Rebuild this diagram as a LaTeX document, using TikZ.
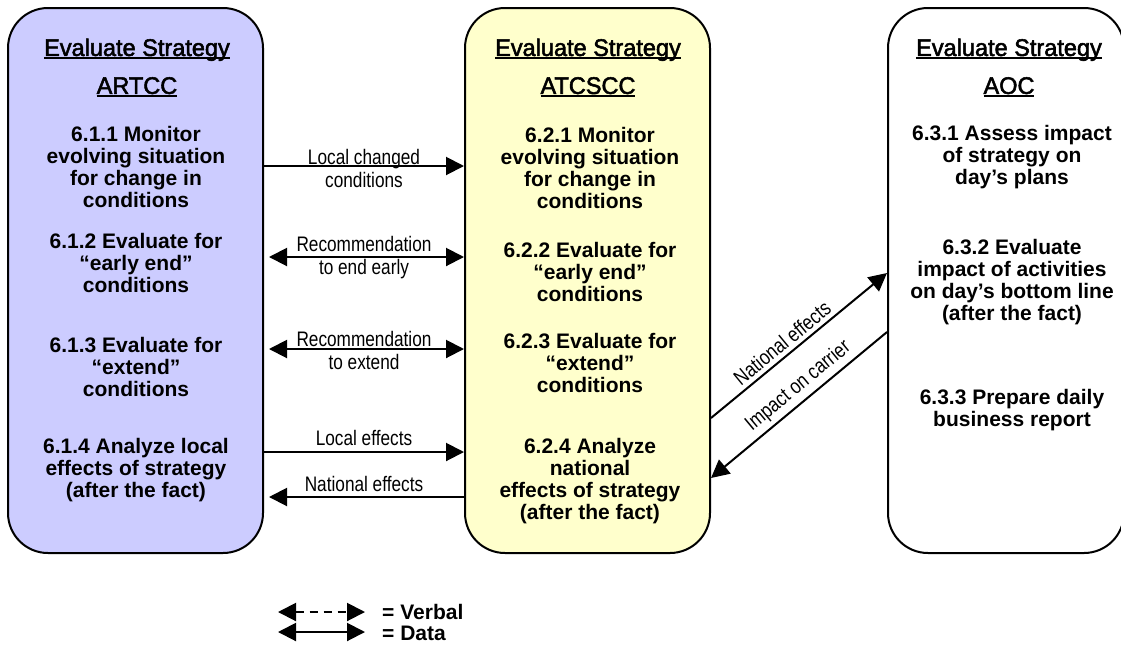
\documentclass[tikz,border=0pt]{standalone}
\usepackage{fontspec}
\setmainfont{Liberation Sans}
\newfontfamily\labelfont[FakeStretch=0.82]{Liberation Sans}
\newfontfamily\headfont[FakeStretch=0.98,FakeBold=2.2]{Liberation Sans}
\usetikzlibrary{arrows.meta}

\definecolor{lanelav}{RGB}{204,204,255}
\definecolor{laneyellow}{RGB}{255,255,204}

% heavy underline for the lane headings
\newcommand\headrule[1]{\setbox0\hbox{#1}\rlap{\rule[-3.5pt]{\wd0}{2pt}}\box0}

\begin{document}
\begin{tikzpicture}[x=1pt,y=-1pt,
  >={Triangle[length=18pt,width=18pt]},
  lane/.style={draw=black, line width=2pt, rounded corners=40pt,
    minimum height=545pt, inner sep=0pt},
  lanetitle/.style={align=center, inner sep=0pt,
    font=\headfont\fontsize{24}{38}\selectfont},
  task/.style={align=center, inner sep=0pt,
    font=\bfseries\fontsize{21}{22}\selectfont},
  flowlabel/.style={align=center, inner sep=0pt,
    font=\labelfont\fontsize{21}{23}\selectfont},
  flow/.style={line width=2pt},
  legendtext/.style={anchor=west, inner sep=0pt,
    font=\bfseries\fontsize{21}{22}\selectfont}
]
\fill[white] (0,0) rectangle (1121,646);
\useasboundingbox (0,0) rectangle (1121,646);

% lanes
\node[lane, fill=lanelav, minimum width=255pt] (artcc) at (135.5,280.5) {};
\node[lane, fill=laneyellow, minimum width=245pt] (atcscc) at (587.5,280.5) {};
\node[lane, fill=white, minimum width=236pt] (aoc) at (1006,280.5) {};

% lane headings
\node[lanetitle] (h1) at (137,68) {\headrule{Evaluate Strategy}\\\headrule{ARTCC}};
\node[lanetitle] (h2) at (588,68) {\headrule{Evaluate Strategy}\\\headrule{ATCSCC}};
\node[lanetitle] (h3) at (1009,68) {\headrule{Evaluate Strategy}\\\headrule{AOC}};

% ARTCC tasks
\node[task] (s611) at (136,167) {6.1.1 Monitor\\evolving situation\\for change in\\conditions};
\node[task] (s612) at (136,263) {6.1.2 Evaluate for\\“early end”\\conditions};
\node[task] (s613) at (136,367) {6.1.3 Evaluate for\\“extend”\\conditions};
\node[task] (s614) at (136,470) {6.1.4 Analyze local\\effects of strategy\\(after the fact)};

% ATCSCC tasks
\node[task] (s621) at (590,168) {6.2.1 Monitor\\evolving situation\\for change in\\conditions};
\node[task] (s622) at (590,272) {6.2.2 Evaluate for\\“early end”\\conditions};
\node[task] (s623) at (590,363) {6.2.3 Evaluate for\\“extend”\\conditions};
\node[task] (s624) at (590,481) {6.2.4 Analyze\\national\\effects of strategy\\(after the fact)};

% AOC tasks
\node[task] (s631) at (1012,157) {6.3.1 Assess impact\\of strategy on\\day’s plans};
\node[task] (s632) at (1012,282) {6.3.2 Evaluate\\impact of activities\\on day’s bottom line\\(after the fact)};
\node[task] (s633) at (1012,410) {6.3.3 Prepare daily\\business report};

% ARTCC <-> ATCSCC flows
\draw[flow, ->] (artcc.east |- 0,166) --
  node[flowlabel, yshift=-2pt] {Local changed\\conditions} (atcscc.west |- 0,166);
\draw[flow, <->, shorten <=5pt] (artcc.east |- 0,257) --
  node[flowlabel, yshift=-1pt] {Recommendation\\to end early} (atcscc.west |- 0,257);
\draw[flow, <->, shorten <=5pt] (artcc.east |- 0,349) --
  node[flowlabel, yshift=-1pt] {Recommendation\\to extend} (atcscc.west |- 0,349);
\draw[flow, ->] (artcc.east |- 0,452) --
  node[flowlabel, above=5pt] {Local effects} (atcscc.west |- 0,452);
\draw[flow, <-, shorten <=5pt] (artcc.east |- 0,497) --
  node[flowlabel, above=4pt] {National effects} (atcscc.west |- 0,497);

% ATCSCC <-> AOC flows
\draw[flow, ->] (atcscc.east |- 0,418) --
  node[flowlabel, sloped, above=4pt, pos=0.45] {National effects} (aoc.west |- 0,273);
\draw[flow, <-] (atcscc.east |- 0,478) --
  node[flowlabel, sloped, above=4pt, pos=0.55] {Impact on carrier} (aoc.west |- 0,332);

% legend
\coordinate (v1) at (278,612);
\coordinate (v2) at (365,612);
\coordinate (d1) at (278,632);
\coordinate (d2) at (365,632);
\draw[flow, <->, dash pattern=on 8pt off 6pt] (v1) -- (v2);
\draw[flow, <->] (d1) -- (d2);
\node[legendtext] (verbal) at (382,612) {= Verbal};
\node[legendtext] (data) at (382,633) {= Data};
\end{tikzpicture}
\end{document}
